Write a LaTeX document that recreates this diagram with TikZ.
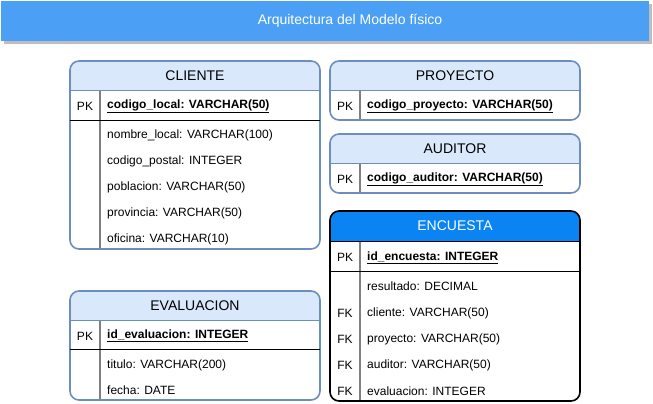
\documentclass[tikz,border=0pt]{standalone}
\usepackage{fontspec}
\setmainfont{Liberation Sans}
\definecolor{hdr}{HTML}{DAE8FC}
\definecolor{bdr}{HTML}{6C8EBF}
\definecolor{titlebg}{HTML}{4BA0F5}
\definecolor{enchdr}{HTML}{0B84F3}
\definecolor{divg}{HTML}{808080}
\definecolor{shadowc}{HTML}{BDBDBD}
\tikzset{
  fld/.style={anchor=west, inner sep=0pt, yshift=-1.5pt, font=\fontsize{12}{14}\selectfont, text=black},
  keyc/.style={inner sep=0pt, yshift=-1.5pt, font=\fontsize{12}{14}\selectfont, text=black},
  ttl/.style={inner sep=0pt, font=\fontsize{14}{16}\selectfont},
  sepline/.style={black, line width=0.9pt},
}
% #1 x1, #2 x2, #3 ytop, #4 yhead, #5 ybot, #6 head fill, #7 border colour, #8 divider x
\newcommand\erbox[8]{%
  \begin{scope}
    \clip[rounded corners=9pt] (#1,#3) rectangle (#2,#5);
    \fill[#6] (#1,#3) rectangle (#2,#4);
    \fill[white] (#1,#4) rectangle (#2,#5);
  \end{scope}
  \draw[divg, line width=1.3pt] (#8,#4) -- (#8,#5);
  \draw[#7, line width=1pt] (#1,#4) -- (#2,#4);
  \draw[#7, line width=1.6pt, rounded corners=9pt] (#1,#3) rectangle (#2,#5);
}
\newcommand\pkf[1]{\underline{\textbf{#1}}}
\begin{document}
\begin{tikzpicture}[x=1pt,y=-1pt]
\useasboundingbox (0,0) rectangle (653,404);
% title
\fill[shadowc] (4,4) rectangle (652,44);
\fill[titlebg] (1,1) rectangle (649,41);
\node[ttl, text=white] (title) at (350,21) {Arquitectura del Modelo físico};

% CLIENTE
\erbox{70}{320}{61}{90}{249}{hdr}{bdr}{100}
\draw[sepline] (70,120) -- (320,120);
\node[ttl] (cliH) at (195,75.5) {CLIENTE};
\node[keyc] (cliPK) at (85,105) {PK};
\node[fld] (cli0) at (107,105) {\pkf{codigo\_local: VARCHAR(50)}};
\node[fld] (cli1) at (107,134) {nombre\_local: VARCHAR(100)};
\node[fld] (cli2) at (107,160) {codigo\_postal: INTEGER};
\node[fld] (cli3) at (107,186) {poblacion: VARCHAR(50)};
\node[fld] (cli4) at (107,212) {provincia: VARCHAR(50)};
\node[fld] (cli5) at (107,238) {oficina: VARCHAR(10)};

% PROYECTO
\erbox{330}{580}{61}{90}{120}{hdr}{bdr}{360}
\node[ttl] (proH) at (455,75.5) {PROYECTO};
\node[keyc] (proPK) at (345,105) {PK};
\node[fld] (pro0) at (367,105) {\pkf{codigo\_proyecto: VARCHAR(50)}};

% AUDITOR
\erbox{330}{580}{134}{163}{193}{hdr}{bdr}{360}
\node[ttl] (audH) at (455,148.5) {AUDITOR};
\node[keyc] (audPK) at (345,178) {PK};
\node[fld] (aud0) at (367,178) {\pkf{codigo\_auditor: VARCHAR(50)}};

% ENCUESTA
\erbox{330}{580}{211}{241}{401}{enchdr}{black}{360}
\draw[sepline] (330,271) -- (580,271);
\node[ttl, text=white] (encH) at (455,226) {ENCUESTA};
\node[keyc] (encPK) at (345,256) {PK};
\node[fld] (enc0) at (367,256) {\pkf{id\_encuesta: INTEGER}};
\node[fld] (enc1) at (367,285) {resultado: DECIMAL};
\node[keyc] (encFK1) at (345,311.5) {FK};
\node[fld] (enc2) at (367,311.5) {cliente: VARCHAR(50)};
\node[keyc] (encFK2) at (345,337.5) {FK};
\node[fld] (enc3) at (367,337.5) {proyecto: VARCHAR(50)};
\node[keyc] (encFK3) at (345,363.5) {FK};
\node[fld] (enc4) at (367,363.5) {auditor: VARCHAR(50)};
\node[keyc] (encFK4) at (345,389.5) {FK};
\node[fld] (enc5) at (367,389.5) {evaluacion: INTEGER};

% EVALUACION
\erbox{70}{320}{291}{320}{400}{hdr}{bdr}{100}
\draw[sepline] (70,349) -- (320,349);
\node[ttl] (evaH) at (195,305.5) {EVALUACION};
\node[keyc] (evaPK) at (85,334.5) {PK};
\node[fld] (eva0) at (107,334.5) {\pkf{id\_evaluacion: INTEGER}};
\node[fld] (eva1) at (107,363.5) {titulo: VARCHAR(200)};
\node[fld] (eva2) at (107,389) {fecha: DATE};
\end{tikzpicture}
\end{document}
